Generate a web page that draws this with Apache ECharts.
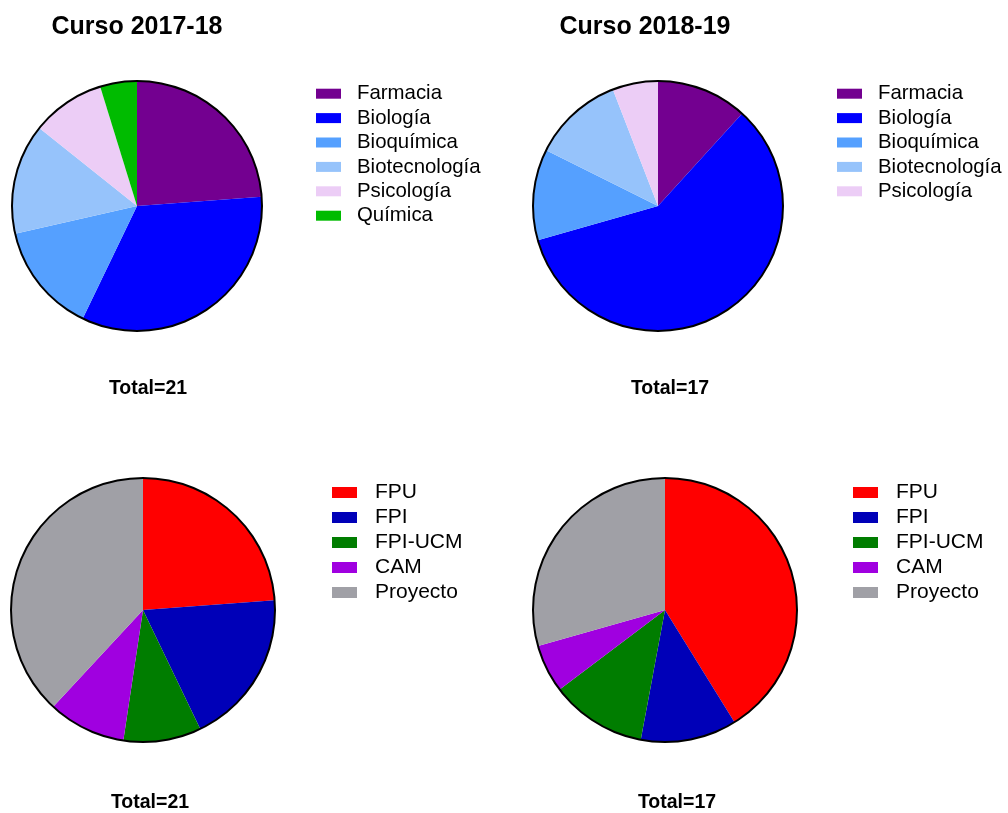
<!DOCTYPE html>
<html>
<head>
<meta charset="utf-8">
<title>Cursos</title>
<script src="https://cdn.jsdelivr.net/npm/echarts@6/dist/echarts.min.js"></script>
<style>
  html, body { margin: 0; padding: 0; background: #fff; }
  #main { width: 1008px; height: 813px; }
</style>
</head>
<body>
<div id="main"></div>
<script>
// datos
const cursos = ['Curso 2017-18', 'Curso 2018-19'];
const grados1718 = ['Farmacia', 'Biología', 'Bioquímica', 'Biotecnología', 'Psicología', 'Química'];
const alumnos1718 = [5, 7, 3, 3, 2, 1];
const grados1819 = ['Farmacia', 'Biología', 'Bioquímica', 'Biotecnología', 'Psicología'];
const alumnos1819 = [2, 10, 2, 2, 1];
const becas = ['FPU', 'FPI', 'FPI-UCM', 'CAM', 'Proyecto'];
const becas1718 = [5, 4, 2, 2, 8];
const becas1819 = [7, 2, 2, 1, 5];

const colores = {
  'Farmacia': '#730090',
  'Biología': '#0000ff',
  'Bioquímica': '#55a0ff',
  'Biotecnología': '#96c3fb',
  'Psicología': '#eccdf6',
  'Química': '#00bb00',
  'FPU': '#ff0000',
  'FPI': '#0000b8',
  'FPI-UCM': '#007d00',
  'CAM': '#a000e0',
  'Proyecto': '#a0a0a6'
};

const fuente = 'Liberation Sans, Arial, sans-serif';
const suma = arr => arr.reduce((a, b) => a + b, 0);

// una tarta con su borde negro
function tarta (center, r, nombres, valores) {
  return [
    {
      type: 'pie',
      center: center,
      radius: r,
      startAngle: 90,
      clockwise: true,
      silent: true,
      label: { show: false },
      labelLine: { show: false },
      itemStyle: { borderWidth: 0 },
      data: nombres.map((n, i) => ({ name: n, value: valores[i], itemStyle: { color: colores[n] } }))
    },
    {
      type: 'pie',
      center: center,
      radius: [r - 1, r + 1],
      silent: true,
      label: { show: false },
      labelLine: { show: false },
      data: [{ name: 'borde', value: 1, itemStyle: { color: '#000' } }]
    }
  ];
}

function leyenda (left, top, nombres, size, alto, sep) {
  return {
    left: left,
    top: top,
    orient: 'vertical',
    padding: 0,
    itemGap: 4,
    itemWidth: 25,
    itemHeight: alto,
    icon: 'rect',
    selectedMode: false,
    data: nombres,
    textStyle: { fontSize: size, lineHeight: size, fontFamily: fuente, color: '#000', padding: [0, 0, 0, sep] }
  };
}

function texto (t, left, top, size) {
  return {
    text: t,
    left: left,
    top: top,
    textAlign: 'center',
    padding: 0,
    textStyle: { fontSize: size, fontWeight: 'bold', fontFamily: fuente, color: '#000' }
  };
}

var myChart = echarts.init(document.getElementById('main'));
let option = {
  animation: false,
  backgroundColor: '#fff',
  title: [
    texto(cursos[0], 137, 15, 25),
    texto(cursos[1], 645, 15, 25),
    texto('Total=' + suma(alumnos1718), 148, 379, 19.5),
    texto('Total=' + suma(alumnos1819), 670, 379, 19.5),
    texto('Total=' + suma(becas1718), 150, 793, 19.5),
    texto('Total=' + suma(becas1819), 677, 793, 19.5)
  ],
  legend: [
    leyenda(316, 83.5, grados1718, 20.4, 10, 11),
    leyenda(837, 83.5, grados1819, 20.4, 10, 11),
    leyenda(332, 482, becas, 21, 11, 13),
    leyenda(853, 482, becas, 21, 11, 13)
  ],
  series: [].concat(
    tarta([137, 206], 125, grados1718, alumnos1718),
    tarta([658, 206], 125, grados1819, alumnos1819),
    tarta([143, 610], 132, becas, becas1718),
    tarta([665, 610], 132, becas, becas1819)
  )
};
myChart.setOption(option);
</script>
</body>
</html>
